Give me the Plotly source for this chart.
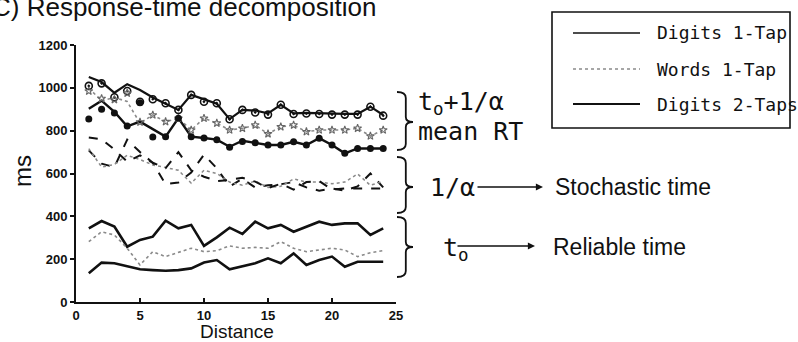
import plotly.graph_objects as go

# ---------------- data ----------------
distance = list(range(1, 25))

# model line t0 + 1/alpha
fit_d1 = [1051, 1027, 977, 1017, 990, 955, 926, 897, 967, 945, 926, 854,
          897, 894, 881, 921, 881, 883, 881, 878, 878, 878, 912, 873]
fit_w = [998, 940, 955, 936, 835, 873, 842, 858, 803, 858, 835, 803,
         811, 826, 785, 818, 826, 795, 803, 803, 803, 811, 775, 803]
fit_d2 = [902, 940, 888, 820, 842, 806, 772, 859, 772, 766, 758, 725,
          753, 743, 733, 733, 748, 733, 765, 733, 694, 717, 717, 717]

# observed mean RT (markers)
rt_d1 = [1009, 1021, 956, 985, 935, 947, 928, 897, 967, 935, 928, 853,
         897, 885, 875, 921, 878, 880, 878, 875, 875, 875, 912, 870]
rt_w = [985, 950, 945, 975, 840, 873, 842, 858, 803, 858, 835, 803,
        811, 826, 785, 818, 826, 795, 803, 803, 803, 811, 775, 803]
rt_d2 = [855, 900, 882, 822, 930, 770, 772, 858, 772, 766, 758, 722,
         750, 743, 733, 733, 748, 733, 765, 733, 694, 717, 717, 717]

# stochastic time 1/alpha
inv_alpha_d1 = [708, 646, 630, 758, 700, 650, 550, 558, 605, 688, 624, 540,
                575, 535, 545, 550, 560, 535, 520, 530, 520, 540, 600, 535]
inv_alpha_w = [716, 630, 642, 685, 665, 640, 628, 615, 555, 615, 600, 560,
               545, 565, 535, 540, 575, 560, 560, 552, 560, 598, 545, 563]
inv_alpha_d2 = [768, 760, 712, 655, 685, 650, 625, 700, 615, 585, 565, 570,
                580, 562, 532, 552, 525, 560, 565, 525, 530, 530, 530, 530]

# reliable time t0
t0_d1 = [344, 378, 352, 258, 290, 305, 380, 344, 360, 262, 302, 347,
         318, 375, 344, 360, 328, 352, 375, 360, 367, 367, 313, 344]
t0_w = [282, 328, 313, 251, 173, 235, 212, 230, 251, 235, 240, 262,
        251, 255, 251, 282, 251, 235, 243, 251, 243, 212, 230, 240]
t0_d2 = [134, 184, 181, 168, 153, 149, 146, 149, 157, 184, 196, 153,
         168, 181, 204, 181, 227, 173, 196, 212, 165, 188, 188, 188]

x_ticks = [0, 5, 10, 15, 20, 25]
y_ticks = [0, 200, 400, 600, 800, 1000, 1200]
legend_labels = ["Digits 1-Tap", "Words 1-Tap", "Digits 2-Taps"]

# ---------------- layout helpers ----------------
W, H = 798, 342
L, R, T, B = 76, 396, 45, 302


def px(x):
    return (x - L) / (R - L)


def py(y):
    return (B - y) / (B - T)


BLACK = "#111111"
GRAY = "#8a8a8a"

fig = go.Figure()

# t0 + 1/alpha lines with observed mean RT markers
fig.add_trace(go.Scatter(x=distance, y=fit_d1, mode="lines",
                         line=dict(color=BLACK, width=2.2)))
fig.add_trace(go.Scatter(x=distance, y=fit_w, mode="lines",
                         line=dict(color=GRAY, width=1.6, dash="dot")))
fig.add_trace(go.Scatter(x=distance, y=fit_d2, mode="lines",
                         line=dict(color=BLACK, width=2.4)))
fig.add_trace(go.Scatter(x=distance, y=rt_d1, mode="markers",
                         marker=dict(symbol="circle-open-dot", size=7,
                                     color=BLACK, line=dict(width=1.6))))
fig.add_trace(go.Scatter(x=distance, y=rt_w, mode="markers",
                         marker=dict(symbol="star-open", size=6,
                                     color="#666666", line=dict(width=1.1))))
fig.add_trace(go.Scatter(x=distance, y=rt_d2, mode="markers",
                         marker=dict(symbol="circle", size=7, color=BLACK)))

# 1/alpha
fig.add_trace(go.Scatter(x=distance, y=inv_alpha_d1, mode="lines",
                         line=dict(color=BLACK, width=2, dash="dash")))
fig.add_trace(go.Scatter(x=distance, y=inv_alpha_w, mode="lines",
                         line=dict(color=GRAY, width=1.5, dash="dot")))
fig.add_trace(go.Scatter(x=distance, y=inv_alpha_d2, mode="lines",
                         line=dict(color=BLACK, width=2, dash="dash")))

# t0
fig.add_trace(go.Scatter(x=distance, y=t0_d1, mode="lines",
                         line=dict(color=BLACK, width=2.6)))
fig.add_trace(go.Scatter(x=distance, y=t0_w, mode="lines",
                         line=dict(color=GRAY, width=1.6, dash="dot")))
fig.add_trace(go.Scatter(x=distance, y=t0_d2, mode="lines",
                         line=dict(color=BLACK, width=2.6)))

shapes = []
annotations = []


def brace(x0, ytop, ybot, ymid, w=16):
    xm = x0 + w * 0.55
    pts = [
        ("M", [(x0, ytop)]),
        ("Q", [(xm, ytop), (xm, ytop + 6)]),
        ("L", [(xm, ymid - 5)]),
        ("Q", [(xm, ymid), (x0 + w, ymid)]),
        ("Q", [(xm, ymid), (xm, ymid + 5)]),
        ("L", [(xm, ybot - 6)]),
        ("Q", [(xm, ybot), (x0, ybot)]),
    ]
    s = ""
    for cmd, ps in pts:
        s += cmd + " " + " ".join(f"{px(a):.5f},{py(b):.5f}" for a, b in ps) + " "
    return dict(type="path", xref="paper", yref="paper", path=s.strip(),
                line=dict(color=BLACK, width=1.8))


shapes.append(brace(397, 92, 150, 122))
shapes.append(brace(397, 157, 213, 187))
shapes.append(brace(397, 217, 277, 247))

# legend box
shapes.append(dict(type="rect", xref="paper", yref="paper",
                   x0=px(552), x1=px(790), y0=py(12), y1=py(128),
                   line=dict(color=BLACK, width=1.6)))
legend_rows = [33, 69, 104]
legend_styles = [dict(color=BLACK, width=1.5),
                 dict(color=GRAY, width=1.5, dash="dot"),
                 dict(color=BLACK, width=1.8)]
for yy, st, lab in zip(legend_rows, legend_styles, legend_labels):
    shapes.append(dict(type="line", xref="paper", yref="paper",
                       x0=px(573), x1=px(640), y0=py(yy), y1=py(yy), line=st))
    annotations.append(dict(xref="paper", yref="paper", x=px(655), y=py(yy),
                            xanchor="left", yanchor="middle", showarrow=False,
                            text=lab, font=dict(family="DejaVu Sans Mono",
                                                size=18, color=BLACK)))

MONO = dict(family="DejaVu Sans Mono", size=25, color=BLACK)
SANS = dict(family="Liberation Sans", size=23, color=BLACK)


def text(x, y, s, font, xanchor="left", **kw):
    annotations.append(dict(xref="paper", yref="paper", x=px(x), y=py(y),
                            xanchor=xanchor, yanchor="middle", showarrow=False,
                            text=s, font=font, **kw))


text(416, 103, "t<sub>o</sub>+1/α", MONO)
text(416, 131, "mean RT", MONO)
text(428, 187, "1/α", MONO)
text(441, 249, "t<sub>o</sub>", MONO)
text(553, 187, "Stochastic time", SANS)
text(551, 247, "Reliable time", SANS)

# arrows
for head, tail, yy in [(543, 476, 187), (535, 456, 246)]:
    annotations.append(dict(xref="paper", yref="paper", x=px(head), y=py(yy),
                            ax=tail - head, ay=0, text="", showarrow=True,
                            arrowhead=2, arrowsize=1.1, arrowwidth=1.3,
                            arrowcolor=BLACK, standoff=0))

# title, axis titles
text(-10, 7, "C) Response-time decomposition",
     dict(family="Liberation Sans", size=26, color=BLACK))
text(22, 171, "ms", dict(family="Liberation Sans", size=24, color=BLACK),
     xanchor="center", textangle=-90)
text(237, 331, "Distance", dict(family="Liberation Sans", size=19, color=BLACK),
     xanchor="center")

fig.update_layout(
    width=W, height=H,
    margin=dict(l=L, r=W - R, t=T, b=H - B, pad=0),
    paper_bgcolor="white", plot_bgcolor="white",
    showlegend=False,
    shapes=shapes, annotations=annotations,
    xaxis=dict(range=[0, 25], tickvals=x_ticks, ticks="inside", ticklen=4,
               tickwidth=1.5, tickcolor=BLACK, showline=True, linecolor=BLACK,
               linewidth=2, showgrid=False, zeroline=False,
               tickfont=dict(family="Liberation Sans", size=13, color=BLACK,
                             weight="bold")),
    yaxis=dict(range=[0, 1200], tickvals=y_ticks, ticks="outside", ticklen=4,
               tickwidth=1.5, tickcolor=BLACK, showline=True, linecolor=BLACK,
               linewidth=2, showgrid=False, zeroline=False,
               tickfont=dict(family="Liberation Sans", size=13, color=BLACK,
                             weight="bold")),
)

fig.write_html("out.html",
               config={"displayModeBar": False},
               post_script="document.body.style.margin='0';")
